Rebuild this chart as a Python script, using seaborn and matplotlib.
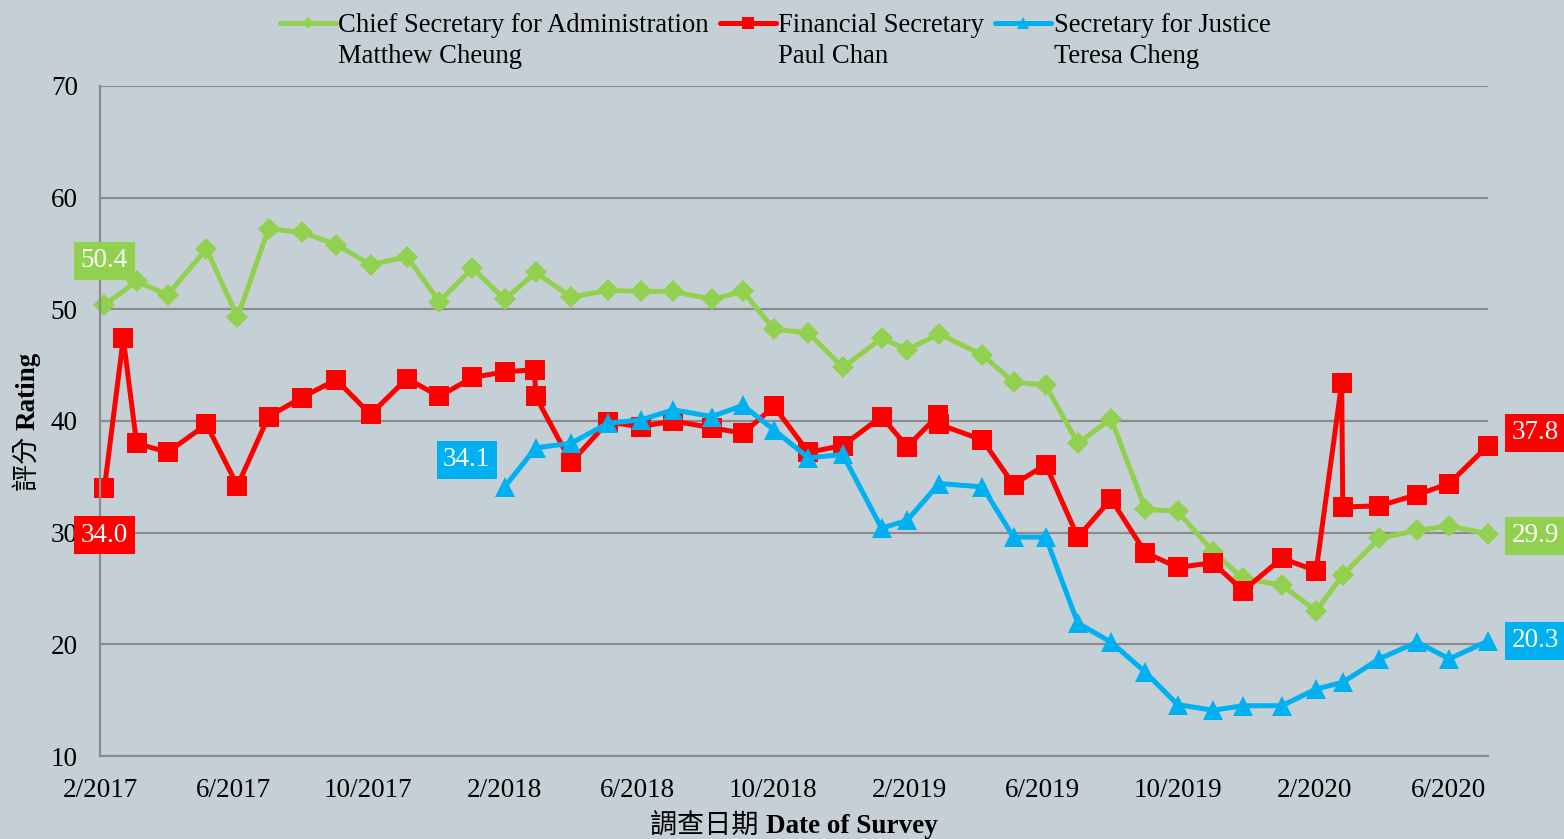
import numpy as np
import pandas as pd
import matplotlib
matplotlib.use("Agg")
import matplotlib.pyplot as plt
import matplotlib.dates as mdates
from matplotlib.ticker import FuncFormatter
import seaborn as sns

# ---------------- data ----------------
cs_dates = ['2017-02-05', '2017-03-06', '2017-04-03', '2017-05-08', '2017-06-05', '2017-07-03',
            '2017-08-02', '2017-09-02', '2017-10-03', '2017-11-05', '2017-12-04', '2018-01-03',
            '2018-02-01', '2018-03-01', '2018-04-02', '2018-05-05', '2018-06-04', '2018-07-03',
            '2018-08-07', '2018-09-04', '2018-10-02', '2018-11-02', '2018-12-03', '2019-01-07',
            '2019-01-30', '2019-02-28', '2019-04-08', '2019-05-06', '2019-06-04', '2019-07-03',
            '2019-08-02', '2019-09-02', '2019-10-01', '2019-11-02', '2019-11-29', '2020-01-03',
            '2020-02-03', '2020-02-27', '2020-03-31', '2020-05-04', '2020-06-02', '2020-07-07']
cs_values = [50.4, 52.5, 51.3, 55.4, 49.3, 57.2, 56.9, 55.8, 54.0, 54.7, 50.7, 53.7,
             50.9, 53.3, 51.1, 51.7, 51.6, 51.6, 50.9, 51.6, 48.2, 47.9, 44.8, 47.4,
             46.4, 47.8, 45.9, 43.5, 43.2, 38.0, 40.2, 32.1, 31.9, 28.3, 25.9, 25.3,
             23.0, 26.2, 29.5, 30.2, 30.6, 29.9]

fs_dates = ['2017-02-05', '2017-02-22', '2017-03-06', '2017-04-03', '2017-05-08', '2017-06-05',
            '2017-07-03', '2017-08-02', '2017-09-02', '2017-10-03', '2017-11-05', '2017-12-04',
            '2018-01-03', '2018-02-01', '2018-02-28', '2018-03-01', '2018-04-02', '2018-05-05',
            '2018-06-04', '2018-07-03', '2018-08-07', '2018-09-04', '2018-10-02', '2018-11-02',
            '2018-12-03', '2019-01-07', '2019-01-30', '2019-02-27', '2019-02-28', '2019-04-08',
            '2019-05-06', '2019-06-04', '2019-07-03', '2019-08-02', '2019-09-02', '2019-10-01',
            '2019-11-02', '2019-11-29', '2020-01-03', '2020-02-03', '2020-02-26', '2020-02-27',
            '2020-03-31', '2020-05-04', '2020-06-02', '2020-07-07']
fs_values = [34.0, 47.4, 38.0, 37.2, 39.7, 34.2, 40.4, 42.1, 43.7, 40.6, 43.8, 42.2,
             43.9, 44.4, 44.6, 42.2, 36.3, 39.9, 39.5, 40.0, 39.4, 38.9, 41.3, 37.2,
             37.8, 40.4, 37.7, 40.5, 39.7, 38.3, 34.3, 36.1, 29.6, 33.0, 28.2, 26.9,
             27.3, 24.8, 27.7, 26.6, 43.4, 32.3, 32.4, 33.4, 34.4, 37.8]

sj_dates = ['2018-02-01', '2018-03-01', '2018-04-02', '2018-05-05', '2018-06-04', '2018-07-03',
            '2018-08-07', '2018-09-04', '2018-10-02', '2018-11-02', '2018-12-03', '2019-01-07',
            '2019-01-30', '2019-02-28', '2019-04-08', '2019-05-06', '2019-06-04', '2019-07-03',
            '2019-08-02', '2019-09-02', '2019-10-01', '2019-11-02', '2019-11-29', '2020-01-03',
            '2020-02-03', '2020-02-27', '2020-03-31', '2020-05-04', '2020-06-02', '2020-07-07']
sj_values = [34.1, 37.6, 38.0, 39.8, 40.1, 41.0, 40.4, 41.4, 39.2, 36.7, 37.0, 30.4,
             31.1, 34.4, 34.1, 29.6, 29.6, 21.9, 20.2, 17.5, 14.6, 14.1, 14.5, 14.5,
             16.0, 16.6, 18.7, 20.2, 18.7, 20.3]

series_titles = ["Chief Secretary for Administration", "Financial Secretary", "Secretary for Justice"]
office_holders = ["Matthew Cheung", "Paul Chan", "Teresa Cheng"]
y_ticks = [10, 20, 30, 40, 50, 60, 70]
x_label_zh, x_label_en = "調查日期 ", "Date of Survey"
y_label_zh, y_label_en = "評分 ", "Rating"

# ---------------- style ----------------
BG = "#C5D0D6"
GRID = "#8C8C8C"
GREEN, RED, BLUE = "#92D050", "#FF0000", "#00B0F0"
FS = 19.5
FAM = ["Liberation Serif", "Noto Sans CJK TC"]

sns.set_theme(style="white")
plt.rcParams["font.family"] = FAM
plt.rcParams["text.color"] = "black"

W, H = 1564, 839
fig = plt.figure(figsize=(W / 100, H / 100), dpi=100, facecolor=BG)
ax = fig.add_axes([100 / W, 1 - 756 / H, 1388 / W, 670 / H])
ax.set_facecolor(BG)

series = [
    (cs_dates, cs_values, GREEN, "D", 11.0, series_titles[0]),
    (fs_dates, fs_values, RED, "s", 14.0, series_titles[1]),
    (sj_dates, sj_values, BLUE, "^", 14.5, series_titles[2]),
]
for dates, vals, col, mk, ms, lab in series:
    df = pd.DataFrame({"date": pd.to_datetime(dates), "value": vals})
    sns.lineplot(data=df, x="date", y="value", ax=ax, color=col, marker=mk,
                 markersize=ms, markeredgewidth=0, linewidth=3.6, label=lab,
                 estimator=None, sort=False, clip_on=False)

ax.set_ylim(10, 70)
ax.set_yticks(y_ticks)
ax.set_xlim(pd.Timestamp("2017-02-01"), pd.Timestamp("2020-07-07"))
ax.xaxis.set_major_locator(mdates.MonthLocator(bymonth=[2, 6, 10]))
ax.xaxis.set_major_formatter(FuncFormatter(
    lambda v, p: f"{mdates.num2date(v).month}/{mdates.num2date(v).year}"))

ax.grid(axis="y", color=GRID, linewidth=1.6)
ax.grid(axis="x", visible=False)
ax.set_axisbelow(True)
for s in ["top", "right"]:
    ax.spines[s].set_visible(False)
for s in ["left", "bottom"]:
    ax.spines[s].set_color(GRID)
    ax.spines[s].set_linewidth(1.6)
ax.tick_params(axis="both", length=0, labelsize=FS, colors="black")
ax.tick_params(axis="x", pad=16)
ax.tick_params(axis="y", pad=16)
ax.set_xlabel("")
ax.set_ylabel("")

# data labels
def tag(date, val, dx, dy, col):
    ax.annotate(f"{val:.1f}", xy=(pd.Timestamp(date), val), xytext=(dx, dy),
                textcoords="offset pixels", ha="center", va="center", color="white",
                fontsize=FS, annotation_clip=False,
                bbox=dict(boxstyle="square,pad=0.24", fc=col, ec="none"))

tag(cs_dates[0], cs_values[0], 0, 44, GREEN)
tag(fs_dates[0], fs_values[0], 0, -47, RED)
tag(sj_dates[0], sj_values[0], -38, 27, BLUE)
tag(fs_dates[-1], fs_values[-1], 47, 13, RED)
tag(cs_dates[-1], cs_values[-1], 47, -2, GREEN)
tag(sj_dates[-1], sj_values[-1], 47, 0, BLUE)

# legend
handles, labels = ax.get_legend_handles_labels()
ax.legend_.remove()
leg = fig.legend(handles, labels, loc="upper center", ncol=3,
                 bbox_to_anchor=(775 / W, 1.0), frameon=False,
                 fontsize=19.2, handlelength=2.1, handletextpad=0.1,
                 columnspacing=0.4, borderpad=0, markerscale=0.6)

# axis titles: CJK part regular, English part bold (pixel layout)
px = fig.dpi_scale_trans + matplotlib.transforms.Affine2D().scale(1 / 100)
tx1 = fig.text(0, 0, x_label_zh, fontsize=FS, transform=None, va="baseline", ha="left")
tx2 = fig.text(0, 0, x_label_en, fontsize=FS, fontweight="bold", transform=None,
               va="baseline", ha="left")
ty1 = fig.text(0, 0, y_label_zh, fontsize=FS, transform=None, va="baseline", ha="left",
               rotation=90, rotation_mode="anchor")
ty2 = fig.text(0, 0, y_label_en, fontsize=FS, fontweight="bold", transform=None,
               va="baseline", ha="left", rotation=90, rotation_mode="anchor")

fig.canvas.draw()
r = fig.canvas.get_renderer()
w1 = tx1.get_window_extent(r).width
w2 = tx2.get_window_extent(r).width
x_start = 794 - (w1 + w2) / 2
tx1.set_position((x_start, H - 833))
tx2.set_position((x_start + w1, H - 833))

h1 = ty1.get_window_extent(r).height
h2 = ty2.get_window_extent(r).height
y_start = (H - 421) - (h1 + h2) / 2
ty1.set_position((35, y_start))
ty2.set_position((35, y_start + h1))

inv = fig.transFigure.inverted()
for t, name in zip(leg.get_texts(), office_holders):
    bb = t.get_window_extent(r)
    x0, y0 = inv.transform((bb.x0, bb.y0 - 31))
    fig.text(x0, y0, name, ha="left", va="bottom", fontsize=19.2)

fig.savefig("out.png", dpi=100, facecolor=BG)
